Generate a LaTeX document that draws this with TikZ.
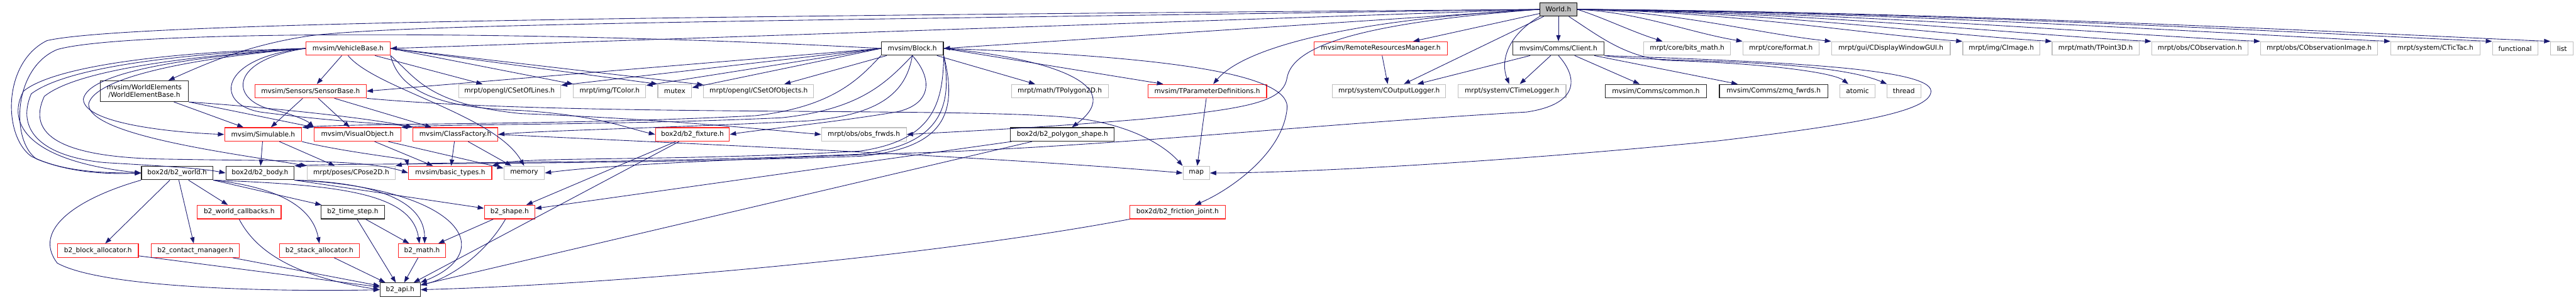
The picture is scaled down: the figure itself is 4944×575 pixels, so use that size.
\documentclass[tikz,border=0pt]{standalone}
\usepackage{fontspec}
\setmainfont{DejaVu Sans}
\usepackage{xcolor}
\usepackage{tikz}
\usetikzlibrary{arrows.meta,calc}
\definecolor{edgeblue}{HTML}{191970}
\definecolor{extgray}{HTML}{BFBFBF}
\definecolor{truncred}{HTML}{FF2020}

\begin{document}
\begin{tikzpicture}[
        x=0.02cm, y=-0.02cm,
        >={Triangle[length=0.24cm,width=0.17cm]},
        every node/.style={font=\fontsize{7.3}{8.4}\selectfont,minimum height=0.52cm,inner sep=2pt,line width=0.8pt,fill=white},
        root/.style={draw=black,fill=extgray},
        docfile/.style={draw=black!85},
        truncfile/.style={draw=truncred},
        extfile/.style={draw=extgray},
        dep/.style={->,draw=edgeblue,line width=0.6pt}
      ]
        \useasboundingbox (0,0) rectangle (4944,575);
        % row 0
        \node[root,minimum width=1.42cm]      (world)      at (2991,18)  {World.h};
        % row 1
        \node[truncfile,minimum width=3.24cm] (vehicle)    at (668,93)   {mvsim/VehicleBase.h};
        \node[docfile,minimum width=2.38cm]   (block)      at (1751,93)  {mvsim/Block.h};
        \node[truncfile,minimum width=5.10cm] (remote)     at (2650,93)  {mvsim/RemoteResourcesManager.h};
        \node[docfile,minimum width=3.50cm]   (client)     at (2991,93)  {mvsim/Comms/Client.h};
        \node[extfile,minimum width=3.34cm]   (bitsmath)   at (3238,93)  {mrpt/core/bits\_math.h};
        \node[extfile,minimum width=2.92cm]   (format)     at (3418,93)  {mrpt/core/format.h};
        \node[extfile,minimum width=4.56cm]   (gui)        at (3629,93)  {mrpt/gui/CDisplayWindowGUI.h};
        \node[extfile,minimum width=2.96cm]   (cimage)     at (3841,93)  {mrpt/img/CImage.h};
        \node[extfile,minimum width=3.34cm]   (tpoint)     at (4022,93)  {mrpt/math/TPoint3D.h};
        \node[extfile,minimum width=3.70cm]   (cobs)       at (4222,93)  {mrpt/obs/CObservation.h};
        \node[extfile,minimum width=4.50cm]   (cobsimg)    at (4451,93)  {mrpt/obs/CObservationImage.h};
        \node[extfile,minimum width=3.42cm]   (tictac)     at (4674,93)  {mrpt/system/CTicTac.h};
        \node[extfile,minimum width=1.74cm]   (functional) at (4827,93)  {functional};
        \node[extfile,minimum width=0.86cm]   (list)       at (4917,93)  {list};
        % row 2
        \node[docfile,minimum width=3.40cm,minimum height=0.8cm,align=center] (web) at (277,175) {mvsim/WorldElements\\/WorldElementBase.h};
        \node[truncfile,minimum width=4.28cm] (sensor)     at (596,175)  {mvsim/Sensors/SensorBase.h};
        \node[extfile,minimum width=3.92cm]   (setlines)   at (978,175)  {mrpt/opengl/CSetOfLines.h};
        \node[extfile,minimum width=2.78cm]   (tcolor)     at (1170,175) {mrpt/img/TColor.h};
        \node[extfile,minimum width=1.30cm]   (mutex)      at (1295,175) {mutex};
        \node[extfile,minimum width=4.22cm]   (setobjs)    at (1456,175) {mrpt/opengl/CSetOfObjects.h};
        \node[extfile,minimum width=3.72cm]   (tpoly)      at (2034,175) {mrpt/math/TPolygon2D.h};
        \node[truncfile,minimum width=4.56cm] (tparam)     at (2317,175) {mvsim/TParameterDefinitions.h};
        \node[extfile,minimum width=4.34cm]   (outlogger)  at (2666,175) {mrpt/system/COutputLogger.h};
        \node[extfile,minimum width=4.14cm]   (timelogger) at (2902,175) {mrpt/system/CTimeLogger.h};
        \node[docfile,minimum width=3.90cm]   (common)     at (3178,175) {mvsim/Comms/common.h};
        \node[docfile,minimum width=4.16cm]   (zmq)        at (3404,175) {mvsim/Comms/zmq\_fwrds.h};
        \node[extfile,minimum width=1.36cm]   (atomic)     at (3565,175) {atomic};
        \node[extfile,minimum width=1.30cm]   (thread)     at (3654,175) {thread};
        % row 3
        \node[truncfile,minimum width=2.96cm] (simulable)  at (505,258)  {mvsim/Simulable.h};
        \node[truncfile,minimum width=3.32cm] (visual)     at (686,258)  {mvsim/VisualObject.h};
        \node[truncfile,minimum width=3.26cm] (factory)    at (874,258)  {mvsim/ClassFactory.h};
        \node[truncfile,minimum width=2.84cm] (fixture)    at (1329,258) {box2d/b2\_fixture.h};
        \node[extfile,minimum width=3.26cm]   (obsfrwds)   at (1658,258) {mrpt/obs/obs\_frwds.h};
        \node[docfile,minimum width=3.98cm]   (polyshape)  at (2039,258) {box2d/b2\_polygon\_shape.h};
        % row 4
        \node[docfile,minimum width=2.74cm]   (b2world)    at (340,332)  {box2d/b2\_world.h};
        \node[docfile,minimum width=2.62cm]   (b2body)     at (499,332)  {box2d/b2\_body.h};
        \node[extfile,minimum width=3.38cm]   (cpose)      at (674,332)  {mrpt/poses/CPose2D.h};
        \node[truncfile,minimum width=3.20cm] (basictypes) at (864,332)  {mvsim/basic\_types.h};
        \node[extfile,minimum width=1.56cm]   (memory)     at (1006,332) {memory};
        \node[extfile,minimum width=1.02cm]   (map)        at (2296,332) {map};
        % row 5
        \node[truncfile,minimum width=3.22cm] (callbacks)  at (459,407)  {b2\_world\_callbacks.h};
        \node[docfile,minimum width=2.44cm]   (timestep)   at (677,407)  {b2\_time\_step.h};
        \node[truncfile,minimum width=1.94cm] (shape)      at (978,407)  {b2\_shape.h};
        \node[truncfile,minimum width=3.66cm] (friction)   at (2260,407) {box2d/b2\_friction\_joint.h};
        % row 6
        \node[truncfile,minimum width=3.10cm] (blockalloc) at (188,481)  {b2\_block\_allocator.h};
        \node[truncfile,minimum width=3.38cm] (contactmgr) at (375,481)  {b2\_contact\_manager.h};
        \node[truncfile,minimum width=3.08cm] (stackalloc) at (613,481)  {b2\_stack\_allocator.h};
        \node[truncfile,minimum width=1.82cm] (b2math)     at (810,481)  {b2\_math.h};
        % row 7
        \node[docfile,minimum width=1.54cm]   (b2api)      at (768,556)  {b2\_api.h};

        % World.h
        \draw[dep] (world.west) -- (vehicle.east);
        \draw[dep] (world.west) -- (block.east);
        \draw[dep] (world) -- (remote);
        \draw[dep] (world) -- (client);
        \draw[dep] (world) -- (outlogger);
        \draw[dep] (world.south west) .. controls (2890,70) and (2880,120) .. (timelogger);
        \draw[dep] (world.east) .. controls (3080,35) and (3130,60) .. ($(bitsmath.north west)+(37,0)$);
        \draw[dep] (world.east) .. controls (3150,24) and (3240,62) .. (format.north west);
        \draw[dep] (world.east) .. controls (3220,22) and (3370,64) .. (gui.north west);
        \draw[dep] (world.east) .. controls (3320,22) and (3580,66) .. (cimage.north west);
        \draw[dep] (world.east) .. controls (3390,22) and (3740,68) .. (tpoint.north west);
        \draw[dep] (world.east) .. controls (3470,22) and (3920,70) .. (cobs.north west);
        \draw[dep] (world.east) .. controls (3550,22) and (4120,70) .. (cobsimg.north west);
        \draw[dep] (world.east) .. controls (3650,22) and (4360,70) .. (tictac.north west);
        \draw[dep] (world.east) .. controls (3720,22) and (4550,70) .. (functional.north west);
        \draw[dep] (world.east) .. controls (3770,22) and (4660,70) .. (list.north west);
        \draw[dep] (world.west) .. controls (2550,40) and (2380,100) .. (tparam);
        \draw[dep] (world.west) .. controls (2600,45) and (2480,90) .. (2470,150) .. controls (2462,195) and (2400,208) .. (2200,228) .. controls (2000,245) and (1850,252) .. (obsfrwds.east);
        \draw[dep] (world.west) .. controls (1500,40) and (800,45) .. (600,68) .. controls (480,85) and (400,120) .. (web);
        \draw[dep] (world.west) .. controls (1500,30) and (250,40) .. (90,78) .. controls (5,120) and (5,260) .. (60,300) .. controls (120,330) and (200,332) .. (b2world.west);
        \draw[dep] ($(world.south)+(20,0)$) .. controls (3070,70) and (3120,110) .. (3200,116) .. controls (3400,122) and (3520,140) .. (atomic);
        % Comms/Client.h
        \draw[dep] (client) -- (outlogger);
        \draw[dep] (client) -- (timelogger);
        \draw[dep] (client) -- (common);
        \draw[dep] (client) -- (zmq);
        \draw[dep] (client.south east) .. controls (3150,120) and (3500,110) .. (thread);
        \draw[dep] (client.south east) .. controls (3400,118) and (3706,130) .. (3706,175) .. controls (3706,215) and (3550,240) .. (3300,270) .. controls (2900,310) and (2500,332) .. (map.east);
        \draw[dep] (client.south) .. controls (3030,150) and (3030,200) .. (2930,215) .. controls (2500,240) and (2200,275) .. (1800,292) .. controls (1400,305) and (1150,318) .. (memory.east);
        \draw[dep] (remote) -- (outlogger);
        % Block.h
        \draw[dep] (block.west) -- (sensor.east);
        \draw[dep] (block.west) -- (setlines);
        \draw[dep] (block.west) -- (tcolor);
        \draw[dep] (block.west) -- (mutex);
        \draw[dep] (block) -- (setobjs);
        \draw[dep] (block) -- (tpoly);
        \draw[dep] (block.east) -- (tparam);
        \draw[dep] (block.east) .. controls (2000,110) and (2170,160) .. (polyshape);
        \draw[dep] (block.east) .. controls (2300,110) and (2480,150) .. (2470,210) .. controls (2460,300) and (2350,370) .. (friction);
        \draw[dep] (block.south) .. controls (1790,150) and (1790,200) .. (1720,215) .. controls (1600,235) and (1450,250) .. (fixture.east);
        \draw[dep] (block.south west) .. controls (1650,150) and (1600,205) .. (1450,222) .. controls (1100,240) and (700,236) .. (simulable.north east);
        \draw[dep] (block.south) .. controls (1700,160) and (1650,210) .. (1500,226) .. controls (1200,240) and (850,238) .. (visual.north east);
        \draw[dep] (block.south) .. controls (1740,170) and (1700,220) .. (1550,232) .. controls (1300,245) and (1050,250) .. (factory.east);
        \draw[dep] (block.south east) .. controls (1810,200) and (1790,270) .. (1650,290) .. controls (1300,310) and (1000,300) .. (basictypes.north east);
        \draw[dep] (block.south east) .. controls (1830,210) and (1800,280) .. (1650,296) .. controls (1200,315) and (800,310) .. (cpose.north east);
        \draw[dep] (block.south east) .. controls (1840,220) and (1810,285) .. (1650,300) .. controls (1100,318) and (700,312) .. (b2body.north east);
        \draw[dep] (block.west) .. controls (1100,60) and (250,55) .. (110,95) .. controls (25,130) and (20,270) .. (70,305) .. controls (130,330) and (200,335) .. (b2world.west);
        % VehicleBase.h
        \draw[dep] (vehicle) -- (sensor);
        \draw[dep] (vehicle) -- (setlines);
        \draw[dep] (vehicle.east) -- (tcolor);
        \draw[dep] (vehicle.east) -- (mutex.north west);
        \draw[dep] (vehicle.east) -- (setobjs);
        \draw[dep] (vehicle.south) .. controls (720,170) and (950,220) .. (memory.north);
        \draw[dep] (vehicle.south east) .. controls (770,190) and (880,208) .. (1000,212) .. controls (1150,222) and (1200,245) .. (fixture.west);
        \draw[dep] (vehicle.south east) .. controls (800,150) and (820,200) .. (1000,218) .. controls (1300,230) and (1480,250) .. (obsfrwds.west);
        \draw[dep] (vehicle.west) .. controls (300,100) and (100,130) .. (45,175) .. controls (10,240) and (60,310) .. (b2world.west);
        \draw[dep] (vehicle.west) .. controls (300,105) and (120,135) .. (60,180) .. controls (30,250) and (80,300) .. (200,312) .. controls (300,318) and (380,322) .. (b2body.west);
        \draw[dep] (vehicle.west) .. controls (320,110) and (140,140) .. (85,185) .. controls (50,260) and (120,300) .. (300,305) .. controls (550,310) and (700,305) .. (basictypes.west);
        \draw[dep] (vehicle.west) .. controls (350,110) and (170,140) .. (160,190) .. controls (160,240) and (350,255) .. (simulable.west);
        \draw[dep] (vehicle.west) .. controls (360,112) and (180,150) .. (170,200) .. controls (170,260) and (450,295) .. (cpose.north west);
        \draw[dep] (vehicle.west) .. controls (440,115) and (440,190) .. (520,210) .. controls (560,218) and (590,232) .. (visual.north west);
        \draw[dep] (vehicle.west) .. controls (420,110) and (410,200) .. (500,215) .. controls (650,235) and (760,238) .. (factory.north west);
        % WorldElementBase.h
        \draw[dep] (web) -- (simulable);
        \draw[dep] (web.south east) -- (visual.north west);
        \draw[dep] (web.south east) .. controls (500,205) and (700,225) .. (factory.north west);
        % SensorBase.h
        \draw[dep] (sensor) -- (simulable);
        \draw[dep] (sensor) -- (visual);
        \draw[dep] (sensor) -- (factory);
        \draw[dep] (sensor.south east) .. controls (1100,225) and (1850,205) .. (2060,226) .. controls (2180,240) and (2240,285) .. (map.north west);
        % Simulable.h, VisualObject.h, ClassFactory.h
        \draw[dep] (simulable) -- (b2body);
        \draw[dep] (simulable) -- (cpose);
        \draw[dep] (simulable.south east) .. controls (650,290) and (780,305) .. (basictypes.north west);
        \draw[dep] (visual) -- (basictypes);
        \draw[dep] (visual) -- (memory);
        \draw[dep] (factory) -- (basictypes);
        \draw[dep] (factory) -- (memory);
        \draw[dep] (factory.east) .. controls (1300,275) and (1900,300) .. (map.west);
        \draw[dep] (tparam) -- (map);
        % box2d
        \draw[dep] (fixture) -- (shape);
        \draw[dep] (fixture) -- (b2api);
        \draw[dep] (polyshape) -- (shape);
        \draw[dep] (polyshape) -- (b2api);
        \draw[dep] (friction.south west) .. controls (1800,490) and (1200,545) .. (b2api.east);
        \draw[dep] (b2world.south west) .. controls (150,380) and (60,440) .. (110,505) .. controls (200,555) and (550,560) .. (b2api.west);
        \draw[dep] (b2world) -- (blockalloc);
        \draw[dep] (b2world) -- (contactmgr);
        \draw[dep] (b2world) -- (callbacks);
        \draw[dep] (b2world.south east) .. controls (540,360) and (600,400) .. (stackalloc.north);
        \draw[dep] (b2world.south east) -- (timestep);
        \draw[dep] (b2world.south east) .. controls (650,355) and (790,370) .. (b2math.110);
        \draw[dep] (b2body.south east) .. controls (720,350) and (815,385) .. (b2math.70);
        \draw[dep] (b2body.south east) .. controls (880,360) and (960,480) .. (b2api.north east);
        \draw[dep] (b2body.south east) -- (shape);
        \draw[dep] (callbacks.south) .. controls (490,480) and (560,530) .. (b2api.west);
        \draw[dep] (blockalloc) -- (b2api);
        \draw[dep] (contactmgr) -- (b2api);
        \draw[dep] (stackalloc) -- (b2api);
        \draw[dep] (timestep) -- (b2math);
        \draw[dep] (timestep) -- (b2api);
        \draw[dep] (shape) -- (b2math);
        \draw[dep] (shape) .. controls (930,490) and (860,535) .. (b2api);
        \draw[dep] (b2math) -- (b2api);
      \end{tikzpicture}
\end{document}
